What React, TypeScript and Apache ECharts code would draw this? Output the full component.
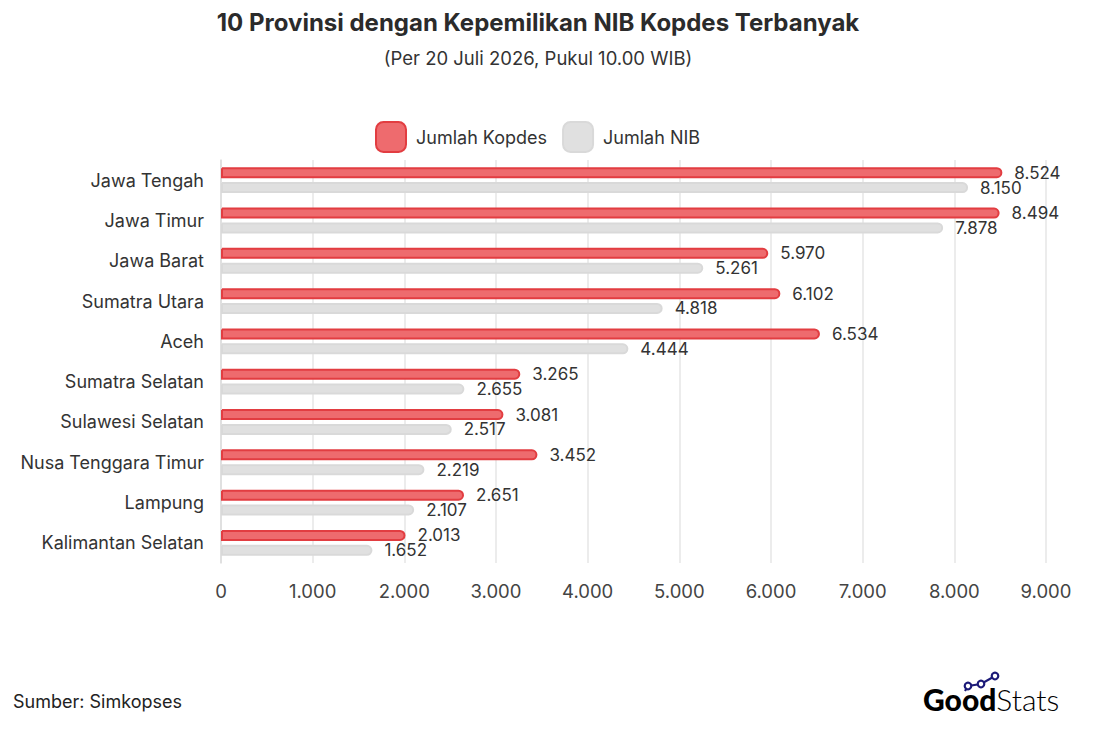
import React, { useEffect, useRef } from "react";
import * as echarts from "echarts";

const provinces = [
  "Jawa Tengah",
  "Jawa Timur",
  "Jawa Barat",
  "Sumatra Utara",
  "Aceh",
  "Sumatra Selatan",
  "Sulawesi Selatan",
  "Nusa Tenggara Timur",
  "Lampung",
  "Kalimantan Selatan",
];
const jumlahKopdes = [8524, 8494, 5970, 6102, 6534, 3265, 3081, 3452, 2651, 2013];
const jumlahNIB = [8150, 7878, 5261, 4818, 4444, 2655, 2517, 2219, 2107, 1652];
const xTicks = { min: 0, max: 9000, interval: 1000 };

const FONT = "Inter, 'Open Sans', sans-serif";
const NAVY = "#1c1a78";
const CENTER_X = 530;
const fmt = (v: number) => v.toLocaleString("de-DE");

export default function App() {
  const ref = useRef<HTMLDivElement>(null);
  useEffect(() => {
    if (!ref.current) return;
    const chart = echarts.init(ref.current, null, { renderer: "svg" });
    const dot = (cx: number, cy: number) => ({
      type: "circle",
      shape: { cx, cy, r: 3.3 },
      style: { fill: "#ffffff", stroke: NAVY, lineWidth: 2.2 },
    });
    chart.setOption({
      animation: false,
      backgroundColor: "#ffffff",
      textStyle: { fontFamily: FONT },
      legend: {
        top: 108,
        left: 362,
        itemWidth: 30,
        itemHeight: 30,
        itemGap: 15,
        icon: "roundRect",
        textStyle: { fontSize: 18, color: "#333333", fontFamily: FONT, padding: [0, 0, 0, 5] },
        data: [
          {
            name: "Jumlah Kopdes",
            itemStyle: { color: "#ee6b6e", borderColor: "#e23d41", borderWidth: 2 },
          },
          {
            name: "Jumlah NIB",
            itemStyle: { color: "#e0e0e0", borderColor: "#d9d9d9", borderWidth: 2 },
          },
        ],
      },
      grid: {
        left: 213,
        right: 53,
        top: 152,
        bottom: 162,
        containLabel: false,
        outerBoundsMode: "none",
      },
      xAxis: {
        type: "value",
        min: xTicks.min,
        max: xTicks.max,
        interval: xTicks.interval,
        axisLabel: {
          formatter: (v: number) => fmt(v),
          fontSize: 18.5,
          color: "#444444",
          margin: 18,
          fontFamily: FONT,
        },
        axisLine: { show: false },
        axisTick: { show: false },
        splitLine: { show: true, lineStyle: { color: "#e6e6e6", width: 1.5 } },
      },
      yAxis: {
        type: "category",
        data: provinces,
        inverse: true,
        axisLabel: { fontSize: 18, color: "#333333", margin: 17, fontFamily: FONT },
        axisLine: { show: true, lineStyle: { color: "#dddddd", width: 1.5 } },
        axisTick: { show: false },
      },
      series: [
        {
          name: "Jumlah Kopdes",
          type: "bar",
          data: jumlahKopdes,
          barWidth: 11,
          barGap: "35%",
          itemStyle: {
            color: "#ee6b6e",
            borderColor: "#e23d41",
            borderWidth: 2,
            borderRadius: [0, 6, 6, 0],
          },
          label: {
            show: true,
            position: "right",
            distance: 12,
            formatter: (p: any) => fmt(p.value),
            fontSize: 17,
            color: "#333333",
            fontFamily: FONT,
          },
        },
        {
          name: "Jumlah NIB",
          type: "bar",
          data: jumlahNIB,
          barWidth: 11,
          itemStyle: {
            color: "#e0e0e0",
            borderColor: "#d9d9d9",
            borderWidth: 2,
            borderRadius: [0, 6, 6, 0],
          },
          label: {
            show: true,
            position: "right",
            distance: 12,
            formatter: (p: any) => fmt(p.value),
            fontSize: 17,
            color: "#333333",
            fontFamily: FONT,
          },
        },
      ],
      graphic: [
        {
          type: "text",
          x: CENTER_X,
          y: 14,
          style: {
            text: "10 Provinsi dengan Kepemilikan NIB Kopdes Terbanyak",
            align: "center",
            verticalAlign: "middle",
            fontSize: 24,
            fontWeight: "bold",
            fill: "#2b2b2b",
            fontFamily: FONT,
          },
        },
        {
          type: "text",
          x: CENTER_X,
          y: 50,
          style: {
            text: "(Per 20 Juli 2026, Pukul 10.00 WIB)",
            align: "center",
            verticalAlign: "middle",
            fontSize: 18.5,
            fill: "#333333",
            fontFamily: FONT,
          },
        },
        {
          type: "text",
          left: 5,
          top: 684,
          style: { text: "Sumber: Simkopses", fontSize: 18, fill: "#222222", fontFamily: FONT },
        },
        {
          type: "group",
          x: 0,
          y: 0,
          children: [
            {
              type: "polyline",
              shape: { points: [[957, 683], [960, 678], [973, 676], [987, 668]] },
              style: { stroke: NAVY, lineWidth: 2.2, fill: "none" },
            },
            dot(960, 678),
            dot(973, 676),
            dot(987, 668),
            {
              type: "text",
              x: 915,
              y: 691,
              style: {
                text: "{a|Good}{b|Stats}",
                verticalAlign: "middle",
                rich: {
                  a: {
                    fontSize: 30,
                    fontWeight: 900,
                    color: NAVY,
                    fontFamily: "Lato, Inter, sans-serif",
                  },
                  b: {
                    fontSize: 30,
                    fontWeight: 300,
                    color: NAVY,
                    fontFamily: "Lato, Inter, sans-serif",
                  },
                },
              },
            },
          ],
        },
      ],
    });
    return () => chart.dispose();
  }, []);
  return <div ref={ref} style={{ width: 1091, height: 717 }} />;
}
